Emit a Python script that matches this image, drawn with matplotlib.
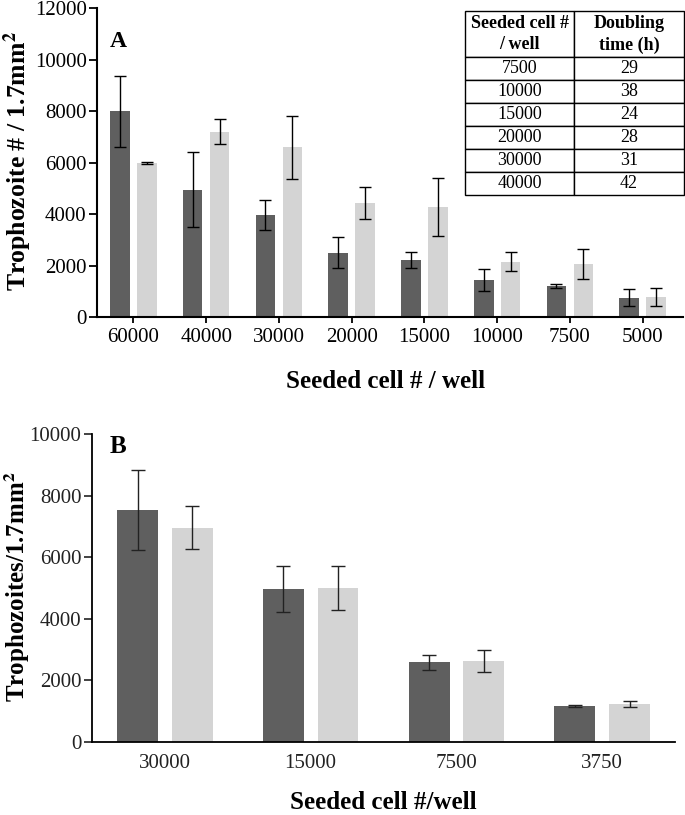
import numpy as np
import matplotlib
matplotlib.use('Agg')
from matplotlib import pyplot as plt

plt.rcParams['font.family'] = ['Liberation Serif', 'DejaVu Serif']
plt.rcParams['mathtext.fontset'] = 'stix'

# panel A data
cells_a = ['60000', '40000', '30000', '20000', '15000', '10000', '7500', '5000']
a_dark = [8000, 4950, 3950, 2500, 2200, 1440, 1200, 740]
a_dark_err = [1380, 1450, 580, 600, 310, 410, 80, 330]
a_light = [5980, 7200, 6600, 4430, 4270, 2150, 2060, 780]
a_light_err = [30, 490, 1220, 630, 1130, 370, 600, 350]

# doubling time table
tab_cells = ['7500', '10000', '15000', '20000', '30000', '40000']
tab_hours = ['29', '38', '24', '28', '31', '42']

# panel B data
cells_b = ['30000', '15000', '7500', '3750']
b_dark = [7530, 4970, 2580, 1170]
b_dark_err = [1300, 750, 230, 20]
b_light = [6950, 4990, 2630, 1230]
b_light_err = [700, 720, 360, 100]

dark = '#5f5f5f'
light = '#d4d4d4'

fig = plt.figure(figsize=(6.85, 8.15), dpi=100)

# ---------- panel A ----------
ax = fig.add_axes([0.1416, 0.611, 0.855, 0.379])
x = np.arange(len(cells_a))
w = 0.27
ax.bar(x - 0.185, a_dark, w, color=dark, yerr=a_dark_err, capsize=4,
       error_kw=dict(elinewidth=1, capthick=1, ecolor='black'))
ax.bar(x + 0.185, a_light, w, color=light, yerr=a_light_err, capsize=4,
       error_kw=dict(elinewidth=1, capthick=1, ecolor='black'))
ax.set_xlim(-0.5, 7.55)
ax.set_ylim(0, 12000)
ax.set_yticks(range(0, 12001, 2000))
ax.set_xticks(x)
ax.set_xticklabels(cells_a)
ax.tick_params(labelsize=15, width=1.3)
ax.tick_params(axis='y', length=6, pad=1.5)
ax.tick_params(axis='x', length=4, pad=4)
for s in ['top', 'right']:
    ax.spines[s].set_visible(False)
for s in ['left', 'bottom']:
    ax.spines[s].set_linewidth(1.5)
ax.set_ylabel('Trophozoite # / 1.7mm$^\\mathbf{2}$', fontsize=18.5, fontweight='bold')
ax.yaxis.set_label_coords(-0.108, 0.505)
ax.set_xlabel('Seeded cell # / well', fontsize=18, fontweight='bold')
ax.xaxis.set_label_coords(0.493, -0.17)
ax.text(0.022, 0.874, 'A', transform=ax.transAxes, fontsize=17, fontweight='bold')

rows = [['Seeded cell #\n/ well', 'Doubling\ntime (h)']] + [[c, h] for c, h in zip(tab_cells, tab_hours)]
tab = ax.table(cellText=rows, bbox=[0.628, 0.395, 0.374, 0.595], cellLoc='center')
tab.auto_set_font_size(False)
for (r, c), cell in tab.get_celld().items():
    cell.set_linewidth(1.0)
    cell.set_height(2.0 if r == 0 else 1.0)
    cell.get_text().set_fontsize(13)
    if r == 0:
        cell.get_text().set_fontweight('bold')
        cell.get_text().set_linespacing(1.35)

# ---------- panel B ----------
bx = fig.add_axes([0.134, 0.0896, 0.851, 0.378])
xb = np.arange(len(cells_b))
wb = 0.28
bx.bar(xb - 0.185, b_dark, wb, color=dark, yerr=b_dark_err, capsize=5,
       error_kw=dict(elinewidth=1, capthick=1, ecolor='#222222'))
bx.bar(xb + 0.19, b_light, wb, color=light, yerr=b_light_err, capsize=5,
       error_kw=dict(elinewidth=1, capthick=1, ecolor='#222222'))
bx.set_xlim(-0.5, 3.5)
bx.set_ylim(0, 10000)
bx.set_yticks(range(0, 10001, 2000))
bx.set_xticks(xb)
bx.set_xticklabels(cells_b)
bx.tick_params(labelsize=15, width=1.2, colors='#222222')
bx.tick_params(axis='y', length=6, pad=1.5)
bx.tick_params(axis='x', length=0, pad=9)
for s in ['top', 'right']:
    bx.spines[s].set_visible(False)
for s in ['left', 'bottom']:
    bx.spines[s].set_linewidth(1.3)
bx.set_ylabel('Trophozoites/1.7mm$^\\mathbf{2}$', fontsize=18, fontweight='bold')
bx.yaxis.set_label_coords(-0.103, 0.503)
bx.set_xlabel('Seeded cell #/well', fontsize=18, fontweight='bold')
bx.xaxis.set_label_coords(0.5, -0.16)
bx.text(0.031, 0.938, 'B', transform=bx.transAxes, fontsize=18, fontweight='bold')

fig.savefig('out.png', dpi=100)
